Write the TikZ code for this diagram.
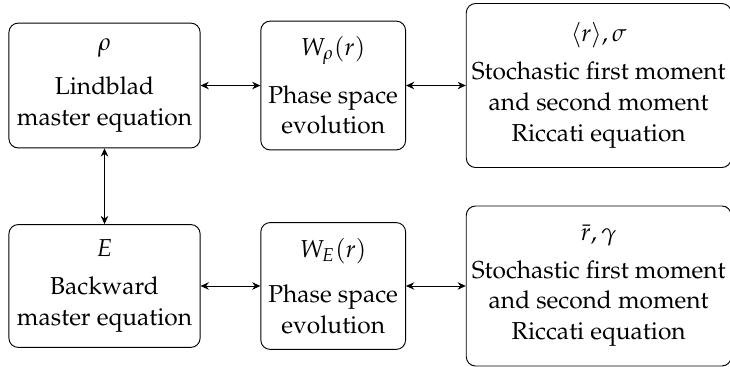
\documentclass[tikz,border=0pt]{standalone}
\usepackage[T1]{fontenc}
\usepackage{mathpazo}
\usetikzlibrary{positioning,arrows.meta}
\tikzset{
    block/.style={draw, rounded corners=4pt, align=center, inner sep=1.5pt,
        font=\fontsize{10.5}{13.2}\selectfont},
    link/.style={{Stealth[length=3.5pt,width=3.2pt]}-{Stealth[length=3.5pt,width=3.2pt]}}
}
\begin{document}
\begin{tikzpicture}[node distance=0.9cm]
    \useasboundingbox (-1.574,1.288) rectangle (9.42,-4.239);

    \node[block, minimum width=2.88cm, minimum height=1.88cm] (rho) at (0,0)
        {$\rho$\\[6pt] Lindblad\\ master equation};
    \node[block, minimum width=2.18cm, minimum height=1.94cm, right=of rho] (wrho)
        {$W_\rho(r)$\\[7pt] Phase space\\ evolution};
    \node[block, minimum width=3.99cm, minimum height=2.47cm, right=of wrho] (momrho)
        {$\langle r\rangle,\sigma$\\[3pt] Stochastic first moment\\ and second moment\\ Riccati equation};

    \node[block, minimum width=2.88cm, minimum height=1.85cm, below=1.14cm of rho] (eff)
        {$E$\\[3pt] Backward\\ master equation};
    \node[block, minimum width=2.18cm, minimum height=1.91cm, right=of eff] (weff)
        {$W_E(r)$\\[6pt] Phase space\\ evolution};
    \node[block, minimum width=3.99cm, minimum height=2.41cm, right=of weff] (momeff)
        {$\bar{r},\gamma$\\[3pt] Stochastic first moment\\ and second moment\\ Riccati equation};

    \draw[link] (rho) -- (wrho);
    \draw[link] (wrho) -- (momrho);
    \draw[link] (eff) -- (weff);
    \draw[link] (weff) -- (momeff);
    \draw[link] (rho) -- (eff);
\end{tikzpicture}
\end{document}
